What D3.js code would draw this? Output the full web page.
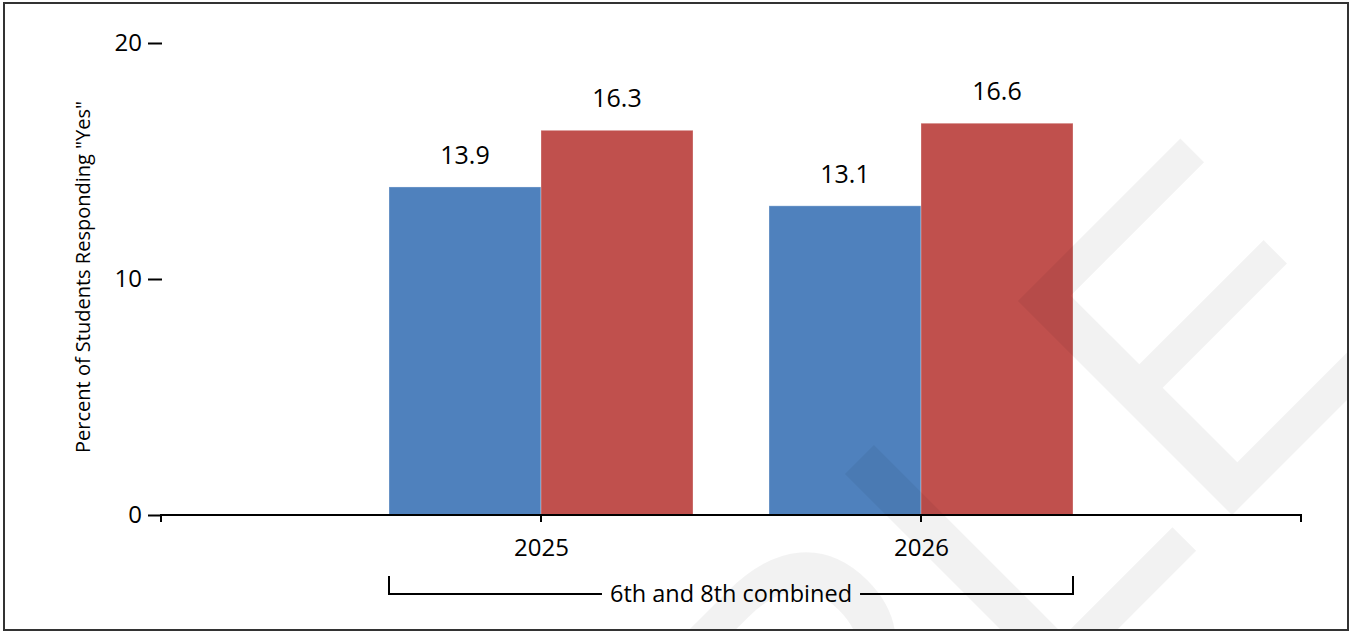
<!DOCTYPE html>
<html>
<head>
<meta charset="utf-8">
<script src="https://cdn.jsdelivr.net/npm/d3@7"></script>
<style>
  html, body { margin: 0; padding: 0; background: #fff; }
  svg { display: block; }
  text { font-family: "Open Sans", "Noto Sans", sans-serif; fill: #000; }
</style>
</head>
<body>
<svg id="chart" width="1350" height="632"></svg>
<script>
// Survey results by year, two groups per year
const categories = ["2025", "2026"];
const seriesBlue = [13.9, 13.1];
const seriesRed = [16.3, 16.6];
const yTicks = [0, 10, 20];
const yTitle = "Percent of Students Responding \"Yes\"";
const groupLabel = "6th and 8th combined";
const watermark = "SAMPLE";

const colors = ["#4f81bd", "#c0504d"];
const seriesList = [seriesBlue, seriesRed];

const svg = d3.select("#chart");

const frame = { x: 4, y: 3, w: 1344, h: 627 };
svg.append("clipPath").attr("id", "frameClip")
  .append("rect").attr("x", frame.x).attr("y", frame.y).attr("width", frame.w).attr("height", frame.h);

// scales
const y = d3.scaleLinear().domain([0, 20]).range([515, 43]);
const x = d3.scalePoint().domain(categories).range([161, 1301]).padding(1);
const groupWidth = x.step() * 0.8;
const xInner = d3.scaleBand().domain(d3.range(seriesList.length))
  .range([-groupWidth / 2, groupWidth / 2]).paddingInner(0);

// bars
const groups = svg.append("g").selectAll("g")
  .data(categories)
  .join("g")
  .attr("transform", d => `translate(${x(d)},0)`);

groups.selectAll("rect")
  .data((d, i) => seriesList.map((s, k) => ({ k, v: s[i] })))
  .join("rect")
  .attr("x", d => xInner(d.k))
  .attr("width", xInner.bandwidth())
  .attr("y", d => y(d.v))
  .attr("height", d => y(0) - y(d.v))
  .attr("fill", d => colors[d.k])
  .attr("stroke", "#fff")
  .attr("stroke-opacity", 0.3)
  .attr("stroke-width", 1);

groups.selectAll("text.val")
  .data((d, i) => seriesList.map((s, k) => ({ k, v: s[i] })))
  .join("text")
  .attr("class", "val")
  .attr("x", d => xInner(d.k) + xInner.bandwidth() / 2)
  .attr("y", d => y(d.v) - 23)
  .attr("text-anchor", "middle")
  .style("font-size", "25px")
  .text(d => d.v.toFixed(1));

// y axis: tick dashes and labels only
const yAxis = d3.axisLeft(y).tickValues(yTicks).tickSize(14).tickPadding(6).tickFormat(d3.format("d"));
const yg = svg.append("g").attr("transform", "translate(162,0)").call(yAxis);
yg.select(".domain").remove();
yg.selectAll(".tick line").attr("stroke", "#000").attr("stroke-width", 2);
yg.selectAll(".tick text").attr("fill", "#000")
  .style("font-size", "24px").style("font-family", "'Open Sans', sans-serif");

// x axis
const xg = svg.append("g").attr("transform", `translate(0,${y(0)})`)
  .call(d3.axisBottom(x).tickSize(0).tickFormat(d => d));
xg.select(".domain").remove();
xg.selectAll(".tick text").attr("fill", "#000").attr("dy", 0).attr("y", 41)
  .style("font-size", "24px").style("font-family", "'Open Sans', sans-serif");

const xEnds = [161, 1301];
svg.append("line")
  .attr("x1", xEnds[0] - 1).attr("x2", xEnds[1] + 1)
  .attr("y1", y(0)).attr("y2", y(0))
  .attr("stroke", "#000").attr("stroke-width", 2);
svg.append("g").selectAll("line")
  .data([xEnds[0], ...categories.map(c => x(c)), xEnds[1]])
  .join("line")
  .attr("x1", d => d).attr("x2", d => d)
  .attr("y1", y(0)).attr("y2", y(0) + 7)
  .attr("stroke", "#000").attr("stroke-width", 2);

// y axis title
svg.append("text")
  .attr("transform", "translate(90,277) rotate(-90)")
  .attr("text-anchor", "middle")
  .style("font-size", "20px")
  .text(yTitle);

// group bracket under the categories
const bLeft = x(categories[0]) - groupWidth / 2;
const bRight = x(categories[categories.length - 1]) + groupWidth / 2;
const bY = 594;
const label = svg.append("text")
  .attr("x", (bLeft + bRight) / 2)
  .attr("y", bY + 8)
  .attr("text-anchor", "middle")
  .style("font-size", "23.5px")
  .text(groupLabel);
const lw = label.node().getComputedTextLength();
const gap = 8;
const cx = (bLeft + bRight) / 2;
svg.append("path")
  .attr("d", `M${bLeft},${bY - 18}V${bY}H${cx - lw / 2 - gap}`)
  .attr("fill", "none").attr("stroke", "#000").attr("stroke-width", 2);
svg.append("path")
  .attr("d", `M${cx + lw / 2 + gap},${bY}H${bRight}V${bY - 18}`)
  .attr("fill", "none").attr("stroke", "#000").attr("stroke-width", 2);

// faint diagonal watermark, clipped to the frame
svg.append("g").attr("clip-path", "url(#frameClip)")
  .append("text")
  .attr("transform", "translate(1414,333) rotate(-45)")
  .attr("text-anchor", "end")
  .style("font-family", "'Liberation Sans', Arial, sans-serif")
  .style("font-size", "440px")
  .style("fill", "#000")
  .style("fill-opacity", 0.05)
  .text(watermark);

// outer frame
svg.append("rect")
  .attr("x", frame.x).attr("y", frame.y).attr("width", frame.w).attr("height", frame.h)
  .attr("fill", "none").attr("stroke", "#333").attr("stroke-width", 2);
</script>
</body>
</html>
